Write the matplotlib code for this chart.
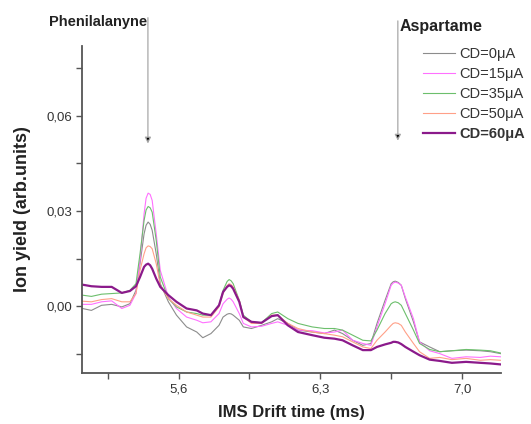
import matplotlib
matplotlib.use("Agg")
import matplotlib.pyplot as plt

plt.rcParams['font.family'] = ['Liberation Sans', 'DejaVu Sans']

# drift time (ms), shared by all spectra
drift = [5.125, 5.17, 5.22, 5.27, 5.32, 5.36, 5.39, 5.41, 5.43, 5.44,
         5.45, 5.46, 5.47, 5.49, 5.51, 5.55, 5.59, 5.64, 5.69, 5.72,
         5.76, 5.80, 5.82, 5.84, 5.85, 5.86, 5.87, 5.90, 5.92, 5.96,
         6.01, 6.06, 6.09, 6.14, 6.19, 6.26, 6.32, 6.37, 6.41, 6.46,
         6.51, 6.55, 6.58, 6.62, 6.65, 6.66, 6.67, 6.685, 6.70, 6.72,
         6.76, 6.79, 6.84, 6.89, 6.95, 7.02, 7.09, 7.14, 7.19]

cd0 = [-0.0007, -0.0013, 0.0003, 0.0006, -0.0002, 0.0008, 0.0050, 0.0134, 0.0228, 0.0255,
       0.0265, 0.0258, 0.0239, 0.0165, 0.0071, 0.0014, -0.0028, -0.0065, -0.0081, -0.0099,
       -0.0086, -0.0060, -0.0034, -0.0025, -0.0023, -0.0024, -0.0028, -0.0044, -0.0065, -0.0070,
       -0.0060, -0.0049, -0.0039, -0.0054, -0.0075, -0.0081, -0.0086, -0.0075, -0.0086, -0.0107,
       -0.0123, -0.0117, -0.0054, 0.0019, 0.0071, 0.0077, 0.0079, 0.0075, 0.0066, 0.0024,
       -0.0049, -0.0112, -0.0128, -0.0143, -0.0140, -0.0138, -0.0140, -0.0143, -0.0149]

cd15 = [0.0006, 0.0006, 0.0014, 0.0017, -0.0007, 0.0003, 0.0040, 0.0145, 0.0291, 0.0340,
        0.0356, 0.0352, 0.0333, 0.0228, 0.0113, 0.0029, -0.0007, -0.0034, -0.0044, -0.0052,
        -0.0049, -0.0023, 0.0008, 0.0022, 0.0026, 0.0022, 0.0014, -0.0023, -0.0054, -0.0065,
        -0.0063, -0.0054, -0.0049, -0.0060, -0.0075, -0.0077, -0.0084, -0.0081, -0.0075, -0.0107,
        -0.0117, -0.0123, -0.0065, 0.0008, 0.0066, 0.0073, 0.0076, 0.0073, 0.0066, 0.0029,
        -0.0039, -0.0112, -0.0140, -0.0149, -0.0164, -0.0159, -0.0161, -0.0157, -0.0159]

cd35 = [0.0035, 0.0031, 0.0038, 0.0040, 0.0042, 0.0050, 0.0071, 0.0165, 0.0270, 0.0303,
        0.0314, 0.0310, 0.0296, 0.0207, 0.0092, 0.0024, -0.0002, -0.0018, -0.0023, -0.0028,
        -0.0028, 0.0003, 0.0050, 0.0078, 0.0084, 0.0080, 0.0071, 0.0019, -0.0028, -0.0049,
        -0.0052, -0.0023, -0.0018, -0.0039, -0.0054, -0.0065, -0.0070, -0.0070, -0.0075, -0.0091,
        -0.0107, -0.0109, -0.0075, -0.0023, 0.0008, 0.0012, 0.0014, 0.0011, 0.0003, -0.0023,
        -0.0075, -0.0117, -0.0136, -0.0143, -0.0140, -0.0136, -0.0138, -0.0140, -0.0147]

cd50 = [0.0016, 0.0014, 0.0021, 0.0024, 0.0014, 0.0014, 0.0040, 0.0113, 0.0165, 0.0184,
        0.0190, 0.0188, 0.0181, 0.0134, 0.0066, 0.0024, 0.0003, -0.0018, -0.0028, -0.0034,
        -0.0034, -0.0002, 0.0040, 0.0065, 0.0071, 0.0068, 0.0061, 0.0019, -0.0034, -0.0054,
        -0.0054, -0.0028, -0.0028, -0.0054, -0.0070, -0.0081, -0.0086, -0.0091, -0.0096, -0.0112,
        -0.0128, -0.0133, -0.0107, -0.0081, -0.0060, -0.0054, -0.0052, -0.0054, -0.0060, -0.0081,
        -0.0117, -0.0143, -0.0164, -0.0161, -0.0168, -0.0164, -0.0170, -0.0168, -0.0170]

cd60 = [0.0068, 0.0063, 0.0061, 0.0061, 0.0042, 0.0048, 0.0063, 0.0092, 0.0124, 0.0131,
        0.0134, 0.0129, 0.0118, 0.0087, 0.0061, 0.0035, 0.0014, -0.0007, -0.0013, -0.0023,
        -0.0028, 0.0003, 0.0045, 0.0061, 0.0066, 0.0063, 0.0055, 0.0014, -0.0034, -0.0049,
        -0.0052, -0.0031, -0.0028, -0.0060, -0.0081, -0.0091, -0.0099, -0.0102, -0.0107, -0.0123,
        -0.0138, -0.0138, -0.0128, -0.0120, -0.0115, -0.0112, -0.0112, -0.0114, -0.0119, -0.0128,
        -0.0143, -0.0154, -0.0168, -0.0172, -0.0178, -0.0175, -0.0178, -0.0180, -0.0183]

labels = ['CD=0\u03bcA', 'CD=15\u03bcA', 'CD=35\u03bcA', 'CD=50\u03bcA', 'CD=60\u03bcA']

xticks = [5.6, 6.3, 7.0]
xticklabels = ['5,6', '6,3', '7,0']
yticks = [0.0, 0.03, 0.06]
yticklabels = ['0,00', '0,03', '0,06']

# peak markers: (name, drift time)
peaks = [('Phenilalanyne', 5.449), ('Aspartame', 6.683)]

fig = plt.figure(figsize=(5.31, 4.24), dpi=100)
ax = fig.add_axes([0.155, 0.1203, 0.7876, 0.7712])

series = [cd0, cd15, cd35, cd50, cd60]
colors = ['#8c8c8c', '#ff70ff', '#6cbf6c', '#ffa088', '#8b1a8b']
widths = [0.8, 0.8, 0.8, 0.8, 1.6]
for y, c, w, lab in zip(series, colors, widths, labels):
    ax.plot(drift, y, color=c, lw=w, label=lab, solid_joinstyle='round')

ax.set_xlim(5.125, 7.19)
ax.set_ylim(-0.021, 0.0819)

ax.set_xticks(xticks, xticklabels)
ax.set_xticks([5.25, 5.95, 6.65], minor=True)
ax.set_yticks(yticks, yticklabels)
ax.set_yticks([-0.015, 0.015, 0.045, 0.075], minor=True)
ax.tick_params(which='both', direction='out', length=4.5, width=1, color='#555555',
               labelsize=9.5, labelcolor='#333333', pad=3)

for s in ['top', 'right']:
    ax.spines[s].set_visible(False)
for s in ['left', 'bottom']:
    ax.spines[s].set_color('#555555')
    ax.spines[s].set_linewidth(1.3)

ax.set_xlabel('IMS Drift time (ms)', fontsize=12, fontweight='bold', color='#222222', labelpad=7)
ax.set_ylabel('Ion yield (arb.units)', fontsize=13, fontweight='bold', color='#222222', labelpad=11)

# arrows pointing down on the two peaks
heads = [0.0512, 0.0521]
tops = [0.0908, 0.0898]
for (name, xp), yh, yt in zip(peaks, heads, tops):
    ax.annotate('', xy=(xp, yh), xytext=(xp, yt), annotation_clip=False,
                arrowprops=dict(arrowstyle='-|>', lw=0.9, ec='#a8a8a8', fc='black',
                                mutation_scale=9, shrinkA=0, shrinkB=0))
ax.text(5.445, 0.0896, peaks[0][0], ha='right', va='center', fontsize=10.5,
        fontweight='bold', color='#222222', clip_on=False)
ax.text(6.694, 0.0881, peaks[1][0], ha='left', va='center', fontsize=11.5,
        fontweight='bold', color='#222222', clip_on=False)

# legend squeezed slightly so the labels stay inside the figure
leg = fig.legend(loc='upper left', bbox_to_anchor=(0.796, 0.888), frameon=False,
                 fontsize=10.5, handlelength=2.2, handletextpad=0.3, labelspacing=0.4,
                 borderpad=0, borderaxespad=0)
for t in leg.get_texts():
    t.set_color('#333333')
leg.get_texts()[-1].set_fontweight('bold')

fig.savefig('out.png', dpi=100)
